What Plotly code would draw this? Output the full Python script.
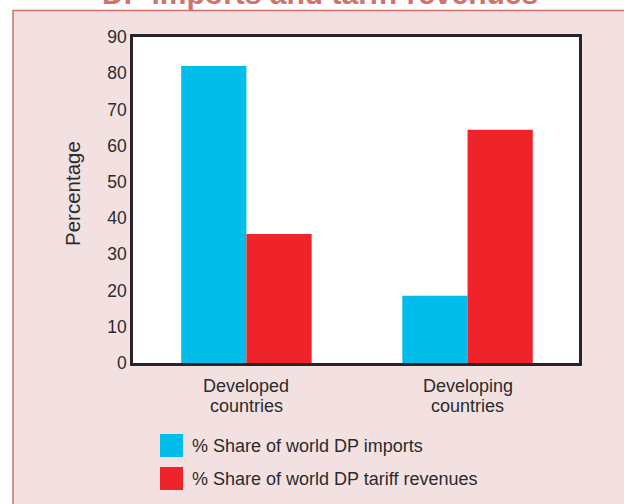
import plotly.graph_objects as go

categories = ["Developed<br>countries", "Developing<br>countries"]
series_names = ["% Share of world DP imports", "% Share of world DP tariff revenues"]
imports_share = [82.0, 18.6]
tariff_share = [35.6, 64.4]
series_values = [imports_share, tariff_share]
series_colors = ["#00bee9", "#ee242a"]
y_ticks = [0, 10, 20, 30, 40, 50, 60, 70, 80, 90]
title_text = "DP imports and tariff revenues"
y_title = "Percentage"

FONT = "Liberation Sans, Arial, Helvetica, sans-serif"
TXT = "#2b2b2b"

W, H = 624, 504
L, R, T, B = 133, 45, 37, 141
pw, ph = W - L - R, H - T - B


def px(X):
    return (X - L) / pw


def py(Y):
    return (H - B - Y) / ph


fig = go.Figure()
for name, vals, col in zip(series_names, series_values, series_colors):
    fig.add_trace(go.Bar(x=categories, y=vals, name=name, marker=dict(color=col, line=dict(width=0))))

shapes = [
    dict(type="rect", xref="paper", yref="paper", x0=px(13), x1=1.3, y0=-0.6, y1=py(10.5),
         fillcolor="#f3e1e2", line=dict(color="#d26e6a", width=1.5), layer="below"),
    dict(type="rect", xref="x domain", yref="y domain", x0=0, x1=1, y0=0, y1=1,
         fillcolor="white", line=dict(width=0), layer="below"),
]
annotations = [
    dict(text=title_text, xref="paper", yref="paper", x=px(320), y=py(12), xanchor="center",
         yanchor="bottom", showarrow=False, font=dict(family=FONT, size=30, color="#d0736e", weight="bold")),
    dict(text=y_title, xref="paper", yref="paper", x=px(72), y=py(194), xanchor="center",
         yanchor="middle", textangle=-90, showarrow=False, font=dict(family=FONT, size=20.5, color=TXT)),
]
# category labels, two lines each, with tighter line spacing than tick labels allow
for cat in categories:
    for line, Y in zip(cat.split("<br>"), (386, 406)):
        annotations.append(dict(text=line, xref="x", yref="paper", x=cat, y=py(Y), xanchor="center",
                                yanchor="middle", showarrow=False,
                                font=dict(family=FONT, size=18, color=TXT)))
leg_boxes = [(434, 457), (467, 490)]
for (y0, y1), name, col in zip(leg_boxes, series_names, series_colors):
    shapes.append(dict(type="rect", xref="paper", yref="paper", x0=px(160), x1=px(183),
                       y0=py(y1), y1=py(y0), fillcolor=col, line=dict(width=0)))
    annotations.append(dict(text=name, xref="paper", yref="paper", x=px(190), y=py((y0 + y1) / 2),
                            xanchor="left", yanchor="middle", showarrow=False,
                            font=dict(family=FONT, size=18, color=TXT)))

fig.update_layout(
    width=W, height=H,
    margin=dict(l=L, r=R, t=T, b=B, autoexpand=False),
    paper_bgcolor="white", plot_bgcolor="rgba(0,0,0,0)",
    barmode="group", bargap=0.41, bargroupgap=0,
    showlegend=False,
    font=dict(family=FONT, color=TXT, size=18),
    shapes=shapes, annotations=annotations,
)
fig.update_xaxes(type="category", range=[-0.513, 1.504], showgrid=False, zeroline=False,
                 showline=True, mirror=True, linecolor="#262626", linewidth=2.5, ticks="",
                 showticklabels=False)
fig.update_yaxes(range=[0, 90], tickvals=y_ticks, showgrid=False, zeroline=False,
                 showline=True, mirror=True, linecolor="#262626", linewidth=2.5, ticks="",
                 tickfont=dict(family=FONT, size=17.5, color=TXT))

fig.write_html("out.html", config={"displayModeBar": False},
               post_script="document.body.style.margin='0';document.body.style.padding='0';"
                           "document.documentElement.style.overflow='hidden';")
